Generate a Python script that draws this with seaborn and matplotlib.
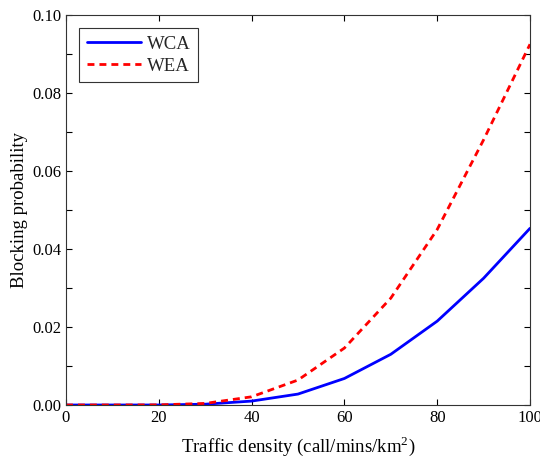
import matplotlib
matplotlib.use("Agg")
import matplotlib.pyplot as plt
import seaborn as sns
import pandas as pd
from matplotlib.ticker import MultipleLocator

traffic = [0, 10, 20, 30, 40, 50, 60, 70, 80, 90, 100]
wca = [0.0, 0.0, 0.0, 0.0002, 0.0010, 0.0028, 0.0068, 0.0130, 0.0215, 0.0325, 0.0453]
wea = [0.0, 0.0, 0.00003, 0.0004, 0.0021, 0.0064, 0.0146, 0.0274, 0.0450, 0.0680, 0.0925]

sns.set_theme(style="white")
plt.rcParams['font.family'] = ['Liberation Serif', 'DejaVu Serif']
plt.rcParams['mathtext.fontset'] = 'custom'
plt.rcParams['mathtext.rm'] = 'Liberation Serif'

df = pd.DataFrame({"x": traffic * 2, "y": wca + wea,
                   "s": ["WCA"] * len(traffic) + ["WEA"] * len(traffic)})

fig = plt.figure(figsize=(5.4, 4.61), dpi=100)
ax = fig.add_axes([0.1222, 0.1215, 0.8593, 0.846])
sns.lineplot(data=df[df.s == "WCA"], x="x", y="y", ax=ax, color="#0000ff", lw=2, label="WCA")
sns.lineplot(data=df[df.s == "WEA"], x="x", y="y", ax=ax, color="#ff0000", lw=2, label="WEA",
             linestyle=(0, (2.5, 1.8)))

ax.set_xlim(0, 100)
ax.set_ylim(0, 0.10)
ax.xaxis.set_major_locator(MultipleLocator(20))
ax.yaxis.set_major_locator(MultipleLocator(0.02))
ax.yaxis.set_minor_locator(MultipleLocator(0.01))
ax.yaxis.set_major_formatter(matplotlib.ticker.FormatStrFormatter('%.2f'))
ax.tick_params(which='both', direction='in', top=True, right=True, bottom=True, left=True,
               labelsize=12, colors='black', length=4, width=0.8)
ax.tick_params(which='minor', length=4)
for sp in ax.spines.values():
    sp.set_color('#333333')
    sp.set_linewidth(0.8)
ax.set_xlabel("Traffic density (call/mins/km$^{\\mathregular{2}}$)", fontsize=13.5, color='black', labelpad=6)
ax.set_ylabel("Blocking probability", fontsize=13.5, color='black', labelpad=3)
leg = ax.legend(loc="upper left", fontsize=13.5, frameon=True, fancybox=False,
                edgecolor='#333333', framealpha=1, borderaxespad=0.7, handlelength=2.9,
                handletextpad=0.3, borderpad=0.4, labelspacing=0.25)
leg.get_frame().set_linewidth(0.8)

fig.savefig("out.png", dpi=100)
